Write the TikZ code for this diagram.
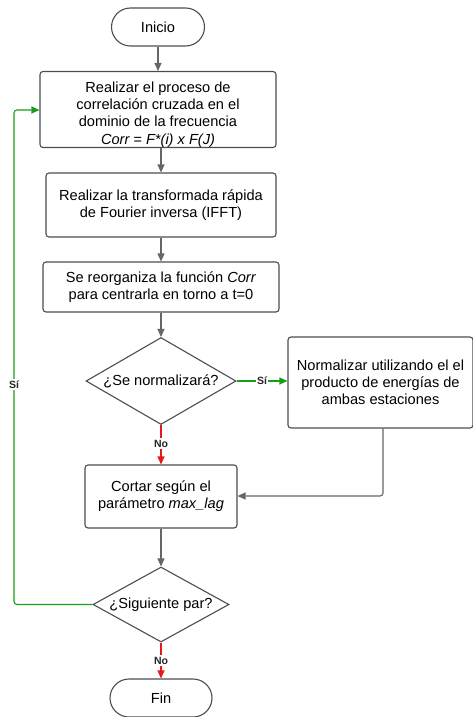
\documentclass[tikz,border=0pt]{standalone}
\usepackage{fontspec}
\setmainfont{Liberation Sans}
\usetikzlibrary{shapes.geometric,arrows.meta}
\definecolor{bordc}{HTML}{4A4D57}
\definecolor{arrc}{HTML}{666666}
\definecolor{grn}{HTML}{17A017}
\definecolor{rd}{HTML}{E5191C}
\begin{document}
\begin{tikzpicture}[x=1pt,y=-1pt,
  every node/.style={font=\fontsize{14.6}{17.2}\selectfont, align=center, inner sep=0pt},
  procbox/.style={draw=bordc, line width=1.1pt, rounded corners=3pt, fill=white},
  term/.style={draw=bordc, line width=1.1pt, rounded corners=19pt, fill=white},
  decis/.style={draw=bordc, line width=1.1pt, diamond, aspect=1.72, fill=white},
  conn/.style={draw=arrc, line width=1.1pt, -{Triangle[length=8pt,width=7pt]}},
  yes/.style={draw=grn, line width=1.1pt, -{Triangle[length=8pt,width=7pt]}},
  no/.style={draw=rd, line width=1.1pt, -{Triangle[length=8pt,width=7pt]}},
  lab/.style={font=\fontsize{10.5}{11}\selectfont\bfseries, fill=white, inner sep=1.5pt, text=black!85}
]
\useasboundingbox (0,0) rectangle (472,717);
\node[term, minimum width=93pt, minimum height=38pt] (ini) at (158,27) {Inicio};
\node[procbox, minimum width=236pt, minimum height=76pt] (b1) at (158,109.5) {};
\node (b1t) at (158,114.5)
  {Realizar el proceso de\\correlación cruzada en el\\dominio de la frecuencia\\\textit{Corr = F*(i) x F(J)}};
\node[procbox, minimum width=230pt, minimum height=64pt] (b2) at (161,205)
  {Realizar la transformada rápida\\de Fourier inversa (IFFT)};
\node[procbox, minimum width=236pt, minimum height=50pt] (b3) at (161,287)
  {Se reorganiza la función \textit{Corr}\\para centrarla en torno a t=0};
\node[decis, minimum width=150pt, minimum height=87pt, inner sep=0pt] (d1) at (161,381) {¿Se normalizará?};
\node[procbox, minimum width=185pt, minimum height=91pt] (nm) at (380.5,382.5)
  {Normalizar utilizando el el\\producto de energías de\\ambas estaciones};
\node[procbox, minimum width=152pt, minimum height=63pt] (ct) at (161,496.5)
  {Cortar según el\\parámetro \textit{max\_lag}};
\node[decis, minimum width=136pt, minimum height=75pt] (d2) at (161,604.5) {¿Siguiente par?};
\node[term, minimum width=102pt, minimum height=38pt] (fin) at (161,698) {Fin};
\coordinate (c1) at (383,496);
\coordinate (lx) at (14,604.5);
\coordinate (ly) at (14,110);

\draw[conn] (ini) -- (ini|-b1.north);
\draw[conn] (b1.south-|b3) -- (b2.north-|b3);
\draw[conn] (b2.south-|b3) -- (b3.north);
\draw[conn] (b3) -- (d1.north);
\draw[yes] (d1.east) -- node[lab]{Sí} (nm.west|-d1.east);
\draw[no] (d1.south) -- node[lab, pos=0.47]{No} (ct.north);
\draw[conn, rounded corners=3pt] (nm.south-|c1) -- (c1) -- (ct.east|-c1);
\draw[conn] (ct) -- (d2.north);
\draw[yes, rounded corners=3pt] (d2.west) -- (lx) -- node[lab, pos=0.445]{Sí} (ly) -- (b1.west|-ly);
\draw[no] (d2.south) -- node[lab, pos=0.5]{No} (fin.north);
\end{tikzpicture}
\end{document}
